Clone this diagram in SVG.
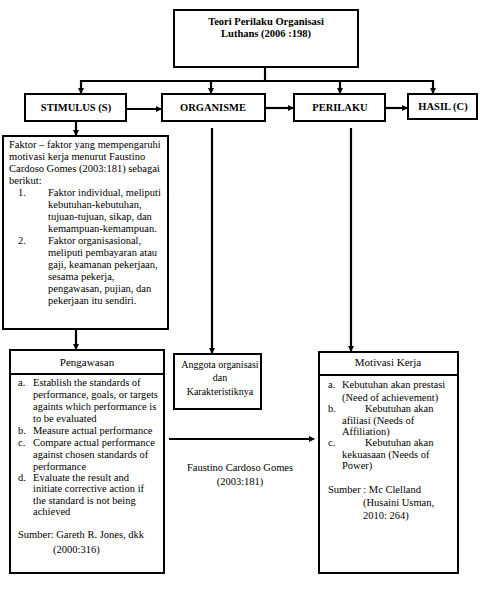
<svg xmlns="http://www.w3.org/2000/svg" width="480" height="599" viewBox="0 0 480 599">
<style>
.box{fill:#fff;stroke:#000;stroke-width:2}
.hd{font-family:'Liberation Serif','Times New Roman','DejaVu Serif',serif;font-weight:bold;font-size:10.5px;fill:#000}
.t{font-family:'Liberation Serif','Times New Roman','DejaVu Serif',serif;font-size:10.5px;fill:#000}
.c{text-anchor:middle}
.ln{fill:none;stroke:#000;stroke-width:2.2}
</style>
<defs>
<marker id="ar" markerWidth="6" markerHeight="6" refX="5" refY="3" orient="auto" markerUnits="userSpaceOnUse">
<path d="M0,0 L6,3 L0,6 Z" fill="#000"/>
</marker>
</defs>
<rect width="480" height="599" fill="#fff"/>
<g id="connectors">
<path class="ln" d="M265,67 V81"/>
<path class="ln" d="M80,81 H433"/>
<path class="ln" d="M81,80 V93" marker-end="url(#ar)"/>
<path class="ln" d="M211,81 V93" marker-end="url(#ar)"/>
<path class="ln" d="M340,81 V93" marker-end="url(#ar)"/>
<path class="ln" d="M433,80 V93" marker-end="url(#ar)"/>
<path class="ln" d="M127,109 H161" marker-end="url(#ar)"/>
<path class="ln" d="M266,108 H293" marker-end="url(#ar)"/>
<path class="ln" d="M386,108 H407" marker-end="url(#ar)"/>
<path class="ln" d="M76,122 V135" marker-end="url(#ar)"/>
<path class="ln" d="M76,330 V349" marker-end="url(#ar)"/>
<path class="ln" d="M212,128 V353" marker-end="url(#ar)"/>
<path class="ln" d="M351,128 V351" marker-end="url(#ar)"/>
<path class="ln" d="M169,439 H314" marker-end="url(#ar)"/>
</g>
<g id="teori">
<rect class="box" x="174" y="10" width="184" height="57"/>
<text class="hd c" x="266" y="25">Teori Perilaku Organisasi</text>
<text class="hd c" x="266" y="37">Luthans (2006 :198)</text>
</g>
<g id="stimulus">
<rect class="box" x="25" y="94" width="101" height="27"/>
<text class="hd c" x="76" y="111">STIMULUS (S)</text>
</g>
<g id="organisme">
<rect class="box" x="162" y="94" width="103" height="27"/>
<text class="hd c" x="213" y="111">ORGANISME</text>
</g>
<g id="perilaku">
<rect class="box" x="294" y="94" width="91" height="27"/>
<text class="hd c" x="340" y="111">PERILAKU</text>
</g>
<g id="hasil">
<rect class="box" x="408" y="94" width="69" height="25"/>
<text class="hd c" x="443" y="110">HASIL (C)</text>
</g>
<g id="faktor">
<rect class="box" x="3" y="136" width="165" height="193"/>
<text class="t" x="9" y="148">Faktor – faktor yang mempengaruhi</text>
<text class="t" x="9" y="160">motivasi kerja  menurut Faustino</text>
<text class="t" x="9" y="172">Cardoso Gomes (2003:181) sebagai</text>
<text class="t" x="9" y="184">berikut:</text>
<text class="t" x="18" y="196">1.</text>
<text class="t" x="48" y="196">Faktor individual, meliputi</text>
<text class="t" x="48" y="208">kebutuhan-kebutuhan,</text>
<text class="t" x="48" y="220">tujuan-tujuan, sikap, dan</text>
<text class="t" x="48" y="232">kemampuan-kemampuan.</text>
<text class="t" x="18" y="244">2.</text>
<text class="t" x="48" y="244">Faktor organisasional,</text>
<text class="t" x="48" y="256">meliputi pembayaran atau</text>
<text class="t" x="48" y="268">gaji, keamanan pekerjaan,</text>
<text class="t" x="48" y="280">sesama pekerja,</text>
<text class="t" x="48" y="292">pengawasan, pujian, dan</text>
<text class="t" x="48" y="304">pekerjaan itu sendiri.</text>
</g>
<g id="pengawasan">
<rect class="box" x="10" y="350" width="154" height="223"/>
<line x1="10" y1="374" x2="164" y2="374" stroke="#000" stroke-width="2"/>
<text class="t c" x="87" y="366" style="font-size:11px">Pengawasan</text>
<text class="t" x="18" y="386">a.</text>
<text class="t" x="33" y="386">Establish the standards of</text>
<text class="t" x="33" y="398">performance, goals, or targets</text>
<text class="t" x="33" y="410">againts which performance is</text>
<text class="t" x="33" y="422">to be evaluated</text>
<text class="t" x="18" y="434">b.</text>
<text class="t" x="33" y="434">Measure actual performance</text>
<text class="t" x="18" y="446">c.</text>
<text class="t" x="33" y="446">Compare actual performance</text>
<text class="t" x="33" y="458">against chosen standards of</text>
<text class="t" x="33" y="470">performance</text>
<text class="t" x="18" y="481">d.</text>
<text class="t" x="33" y="481">Evaluate the result and</text>
<text class="t" x="33" y="492">initiate corrective action if</text>
<text class="t" x="33" y="504">the standard is not being</text>
<text class="t" x="33" y="515">achieved</text>
<text class="t" x="18" y="538">Sumber: Gareth R. Jones, dkk</text>
<text class="t" x="53" y="553">(2000:316)</text>
</g>
<g id="anggota">
<rect class="box" x="174" y="354" width="87" height="55"/>
<text class="t c" x="220" y="368" style="font-size:10px">Anggota organisasi</text>
<text class="t c" x="220" y="381" style="font-size:10px">dan</text>
<text class="t c" x="220" y="395" style="font-size:10px">Karakteristiknya</text>
</g>
<g id="faustino">
<text class="t c" x="240" y="471">Faustino Cardoso Gomes</text>
<text class="t c" x="240" y="485">(2003:181)</text>
</g>
<g id="motivasi">
<rect class="box" x="319" y="352" width="139" height="221"/>
<line x1="319" y1="375" x2="458" y2="375" stroke="#000" stroke-width="2"/>
<text class="t c" x="388" y="366" style="font-size:11px">Motivasi Kerja</text>
<text class="t" x="328" y="388">a.</text>
<text class="t" x="342" y="388">Kebutuhan akan prestasi</text>
<text class="t" x="342" y="401">(Need of achievement)</text>
<text class="t" x="328" y="412">b.</text>
<text class="t" x="365" y="412">Kebutuhan akan</text>
<text class="t" x="342" y="424">afiliasi (Needs of</text>
<text class="t" x="342" y="435">Affiliation)</text>
<text class="t" x="328" y="446">c.</text>
<text class="t" x="365" y="446">Kebutuhan akan</text>
<text class="t" x="342" y="458">kekuasaan (Needs of</text>
<text class="t" x="342" y="469">Power)</text>
<text class="t" x="328" y="493">Sumber : Mc Clelland</text>
<text class="t" x="363" y="506">(Husaini Usman,</text>
<text class="t" x="363" y="519">2010: 264)</text>
</g>
</svg>
